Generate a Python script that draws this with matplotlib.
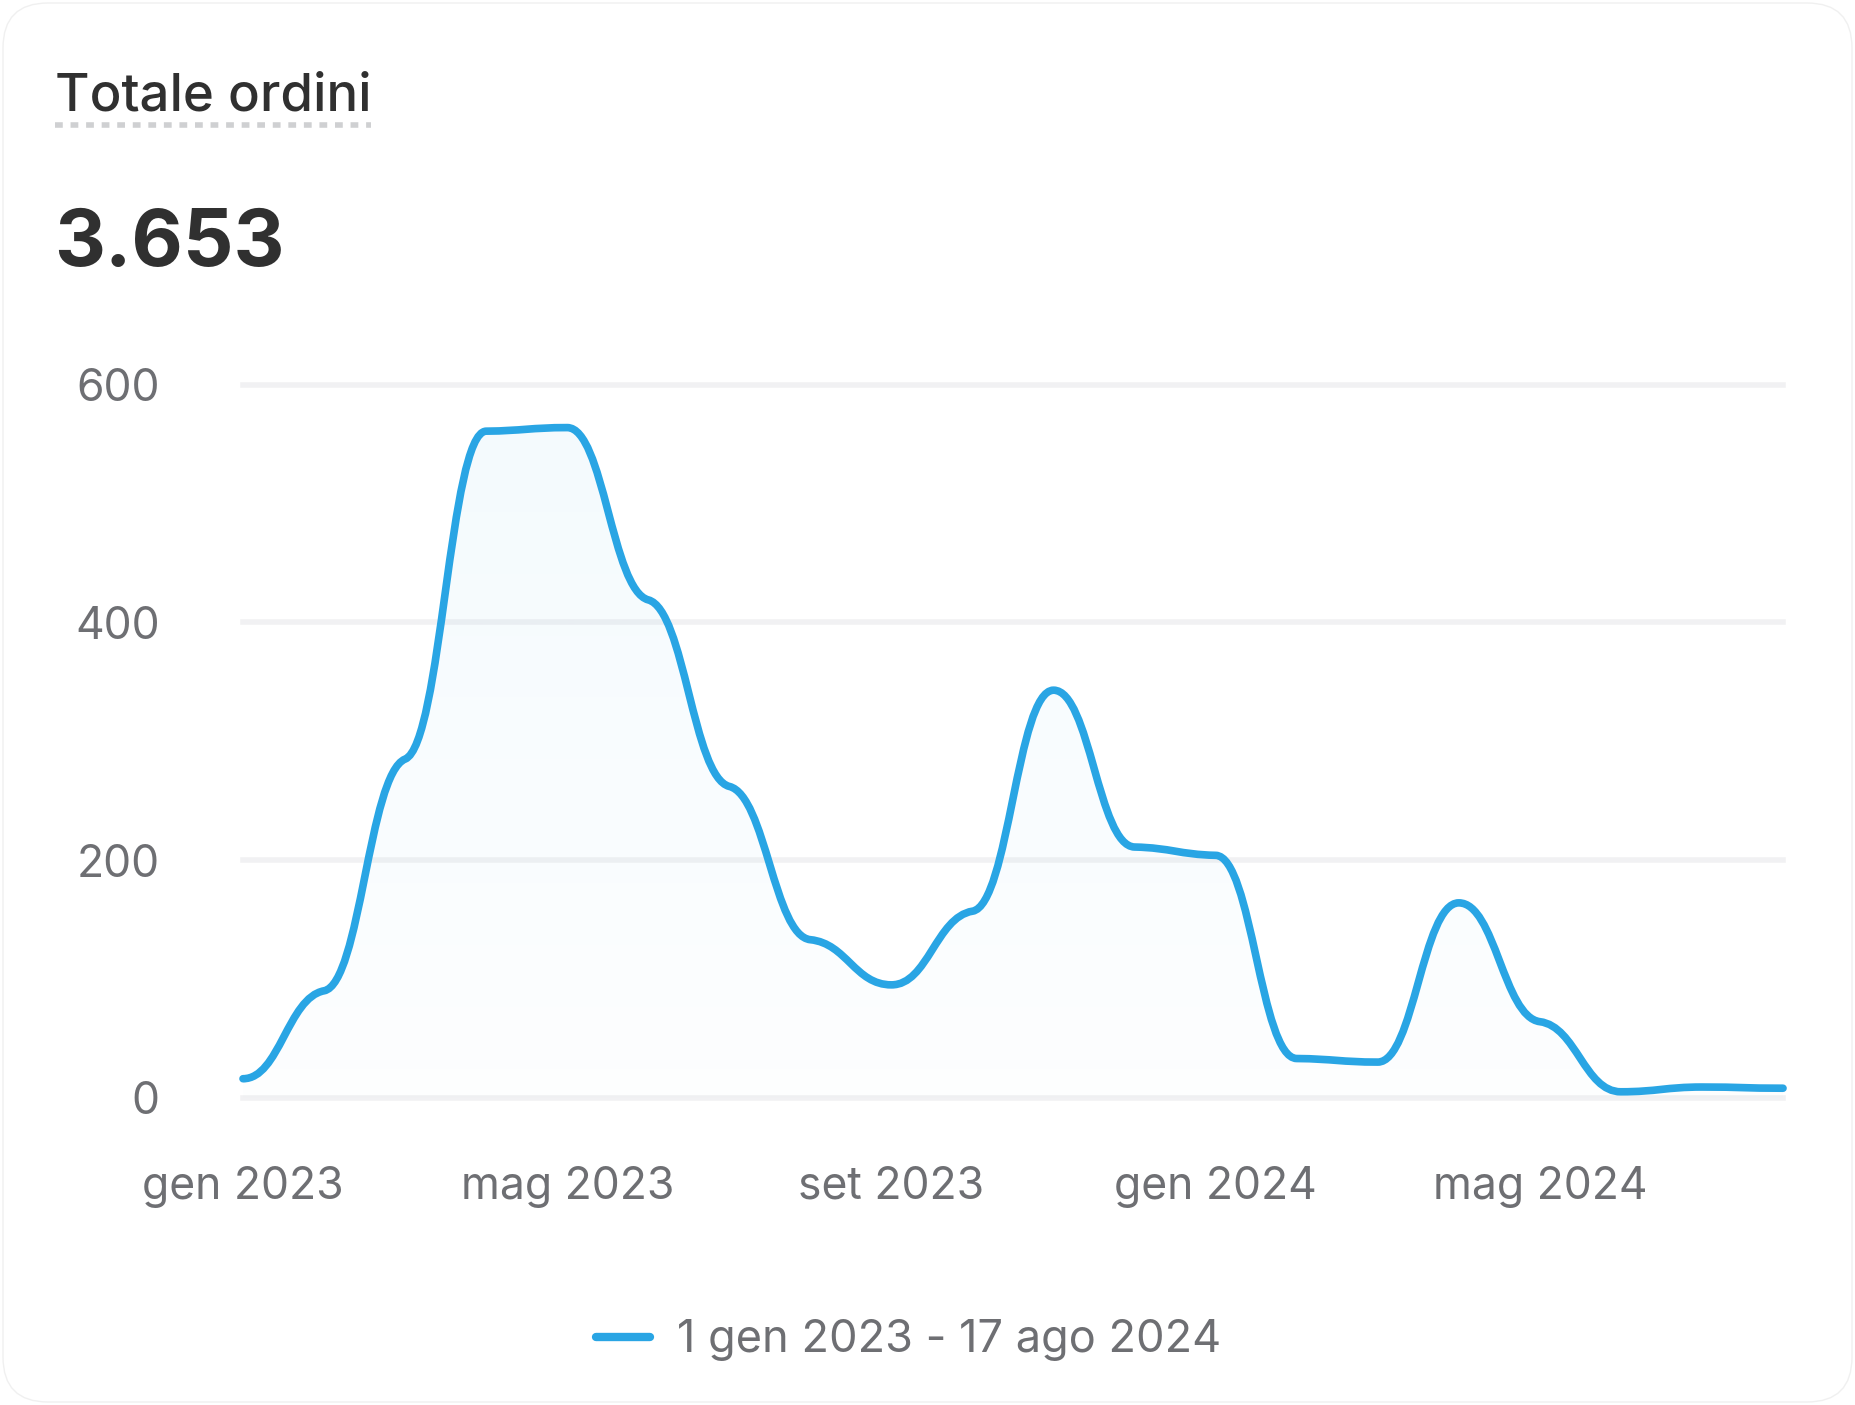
import numpy as np
import matplotlib
matplotlib.use("Agg")
import matplotlib.pyplot as plt
from matplotlib.path import Path
from matplotlib.patches import PathPatch, FancyBboxPatch
from matplotlib.lines import Line2D

# monthly orders, gen 2023 .. ago 2024
months = ["gen 2023", "feb 2023", "mar 2023", "apr 2023", "mag 2023", "giu 2023",
          "lug 2023", "ago 2023", "set 2023", "ott 2023", "nov 2023", "dic 2023",
          "gen 2024", "feb 2024", "mar 2024", "apr 2024", "mag 2024", "giu 2024",
          "lug 2024", "ago 2024"]
orders = [16, 90, 285, 561, 564, 419, 262, 133, 95, 157, 343, 211,
          204, 33, 30, 164, 64, 5, 9, 8]
tick_labels = ["gen 2023", "mag 2023", "set 2023", "gen 2024", "mag 2024"]
y_ticks = [0, 200, 400, 600]
title = "Totale ordini"
total = "3.653"
legend_label = "1 gen 2023 - 17 ago 2024"

BLUE = "#29a5e4"
DARK = "#303030"
GREY = "#6e6f73"

plt.rcParams["font.family"] = ["Inter", "DejaVu Sans"]


def smooth_path(x, y, k=0.12, a=0.45):
    # cubic bezier segments with long, nearly flat handles -> plateau look
    x = np.asarray(x, float)
    y = np.asarray(y, float)
    s = np.diff(y) / np.diff(x)
    m = np.zeros_like(y)
    for i in range(1, len(y) - 1):
        if s[i - 1] * s[i] > 0:
            m[i] = k * 2 * s[i - 1] * s[i] / (s[i - 1] + s[i])
    verts = [(x[0], y[0])]
    codes = [Path.MOVETO]
    for i in range(len(x) - 1):
        h = x[i + 1] - x[i]
        verts += [(x[i] + a * h, y[i] + m[i] * a * h),
                  (x[i + 1] - a * h, y[i + 1] - m[i + 1] * a * h),
                  (x[i + 1], y[i + 1])]
        codes += [Path.CURVE4] * 3
    return verts, codes


def main():
    fig = plt.figure(figsize=(18.55, 14.05), dpi=100)
    fig.patch.set_facecolor("white")

    # card outline
    card = FancyBboxPatch((0.03, 0.03), 18.49, 13.99,
                          boxstyle="round,pad=0,rounding_size=0.45",
                          transform=fig.dpi_scale_trans, facecolor="none",
                          edgecolor="#f0f0f0", linewidth=1.0, zorder=-1)
    fig.patches.append(card)

    fig.text(0.0294, 0.9212, title, fontsize=38, fontweight="medium", color=DARK,
             va="baseline", ha="left")
    fig.add_artist(Line2D([0.0296, 0.2], [0.911, 0.911], transform=fig.transFigure,
                          color="#cfd0d2", lw=4, linestyle=(0, (1.4, 1.4))))
    fig.text(0.0294, 0.811, total, fontsize=57, fontweight="bold", color=DARK,
             va="baseline", ha="left")

    ax = fig.add_axes([0.1310, 0.2187, 0.8302, 0.5074])
    x = np.arange(len(months))
    ax.set_xlim(0, len(months) - 1)
    ax.set_ylim(0, 600)

    for v in y_ticks:
        ax.axhline(v, color="#f1f1f3", lw=4, zorder=0, clip_on=False)

    verts, codes = smooth_path(x, orders)

    # gradient fill under the curve
    fill_verts = verts + [(x[-1], 0), (x[0], 0), (x[0], orders[0])]
    fill_codes = codes + [Path.LINETO, Path.LINETO, Path.CLOSEPOLY]
    fill = PathPatch(Path(fill_verts, fill_codes), facecolor="none", edgecolor="none")
    ax.add_patch(fill)
    grad = np.zeros((256, 1, 4))
    grad[:, 0, :3] = matplotlib.colors.to_rgb(BLUE)
    grad[:, 0, 3] = np.linspace(0.055, 0.01, 256)
    im = ax.imshow(grad, extent=[0, len(months) - 1, 0, 600], origin="upper",
                   aspect="auto", zorder=1)
    im.set_clip_path(fill)

    line = PathPatch(Path(verts, codes), facecolor="none", edgecolor=BLUE, lw=5.5,
                     capstyle="round", joinstyle="round", zorder=3, clip_on=False)
    ax.add_patch(line)

    for sp in ax.spines.values():
        sp.set_visible(False)
    ax.set_yticks(y_ticks)
    ax.set_yticklabels([str(v) for v in y_ticks])
    ax.set_xticks([months.index(t) for t in tick_labels])
    ax.set_xticklabels(tick_labels)
    ax.tick_params(axis="y", length=0, pad=60, labelsize=32, labelcolor=GREY)
    ax.tick_params(axis="x", length=0, pad=49, labelsize=32, labelcolor=GREY)
    ax.set_facecolor("none")

    handle = Line2D([], [], color=BLUE, lw=6, solid_capstyle="round")
    fig.legend([handle], [legend_label], loc="center left",
               bbox_to_anchor=(0.3213, 0.046), frameon=False, fontsize=32.5,
               handlelength=1.2, handletextpad=0.6, borderpad=0,
               borderaxespad=0, labelcolor=GREY)

    fig.savefig("out.png", dpi=100, facecolor="white")


if __name__ == "__main__":
    main()
